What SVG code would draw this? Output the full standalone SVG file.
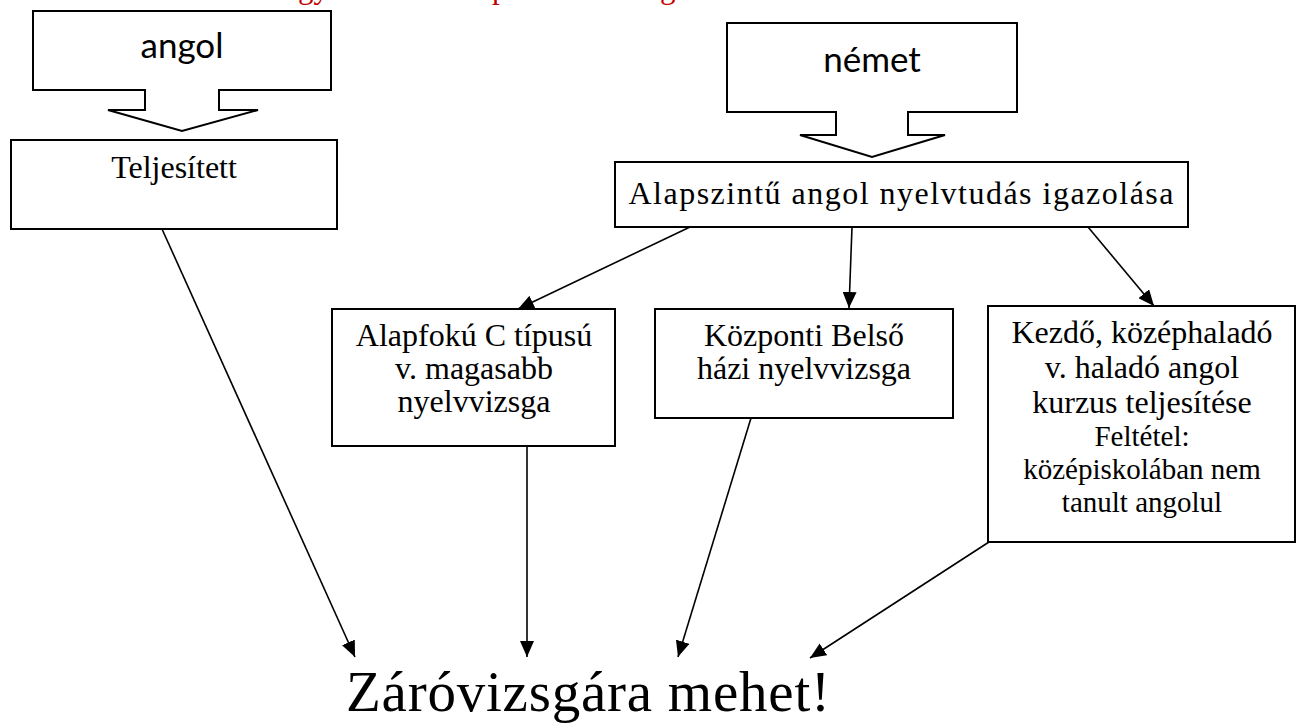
<svg xmlns="http://www.w3.org/2000/svg" width="1303" height="727" viewBox="0 0 1303 727">
<style>
.box{fill:#fff;stroke:#000;stroke-width:2}
.blk{fill:#fff;stroke:#000;stroke-width:2;stroke-linejoin:miter}
.t{font-family:"Liberation Serif","Times New Roman",serif;font-size:32px;fill:#000;text-anchor:middle}
.s{font-family:"Liberation Serif","Times New Roman",serif;font-size:29px;fill:#000;text-anchor:middle}
.sans{font-family:Lato,"Open Sans",sans-serif;font-size:35px;fill:#000;text-anchor:middle}
.big{font-family:"Liberation Serif","Times New Roman",serif;font-size:57px;fill:#000;text-anchor:middle}
.red{font-family:"Liberation Serif","Times New Roman",serif;font-size:31px;fill:#c00000}
.c{fill:none;stroke:#000;stroke-width:1.6;marker-end:url(#ah)}
</style>
<defs>
<marker id="ah" viewBox="0 0 16 14" refX="16" refY="7" markerWidth="16" markerHeight="14" markerUnits="userSpaceOnUse" orient="auto">
<path d="M0,0 L16,7 L0,14 Z" fill="#000"/>
</marker>
</defs>
<g id="red-fragments">
<text class="red" x="298" y="-2">gy</text>
<text class="red" x="492" y="-2">p</text>
<text class="red" x="660" y="-2">g</text>
</g>
<g id="angol">
<path class="blk" d="M33,11 H331 V90 H219 V110 H258 L182,131 L108,110 H145 V90 H33 Z"/>
<text class="sans" x="182" y="58">angol</text>
</g>
<g id="nemet">
<path class="blk" d="M727,23 H1017 V112 H908 V135 H945 L872,157 L800,135 H836 V112 H727 Z"/>
<text class="sans" x="872" y="72">német</text>
</g>
<g id="teljesitett">
<rect class="box" x="11" y="140" width="326" height="89"/>
<text class="t" x="174" y="178" font-size="31">Teljesített</text>
</g>
<g id="alapszintu">
<rect class="box" x="615" y="162" width="573" height="65"/>
<text class="t" x="901" y="204" font-size="35" textLength="545" lengthAdjust="spacing">Alapszintű angol nyelvtudás igazolása</text>
</g>
<g id="alapfoku">
<rect class="box" x="332" y="309" width="283" height="137"/>
<text class="t" x="474" y="346">Alapfokú C típusú</text>
<text class="t" x="474" y="379">v. magasabb</text>
<text class="t" x="474" y="412">nyelvvizsga</text>
</g>
<g id="kozponti">
<rect class="box" x="655" y="309" width="298" height="109"/>
<text class="t" x="804" y="346">Központi Belső</text>
<text class="t" x="804" y="379">házi nyelvvizsga</text>
</g>
<g id="kezdo">
<rect class="box" x="988" y="306" width="307" height="236"/>
<text class="t" x="1142" y="343" font-size="33">Kezdő, középhaladó</text>
<text class="t" x="1142" y="378" font-size="33">v. haladó angol</text>
<text class="t" x="1142" y="413" font-size="33">kurzus teljesítése</text>
<text class="s" x="1142" y="446">Feltétel:</text>
<text class="s" x="1142" y="479">középiskolában nem</text>
<text class="s" x="1142" y="512">tanult angolul</text>
</g>
<g id="zarovizsga">
<text class="big" x="588" y="711" textLength="484" lengthAdjust="spacing">Záróvizsgára mehet!</text>
</g>
<g id="connectors">
<line class="c" x1="162" y1="229" x2="355" y2="657"/>
<line class="c" x1="690" y1="227" x2="518" y2="309"/>
<line class="c" x1="852" y1="227" x2="849" y2="308"/>
<line class="c" x1="1088" y1="227" x2="1154" y2="306"/>
<line class="c" x1="527" y1="446" x2="527" y2="657"/>
<line class="c" x1="751" y1="418" x2="678" y2="657"/>
<line class="c" x1="989" y1="542" x2="810" y2="658"/>
</g>
</svg>
